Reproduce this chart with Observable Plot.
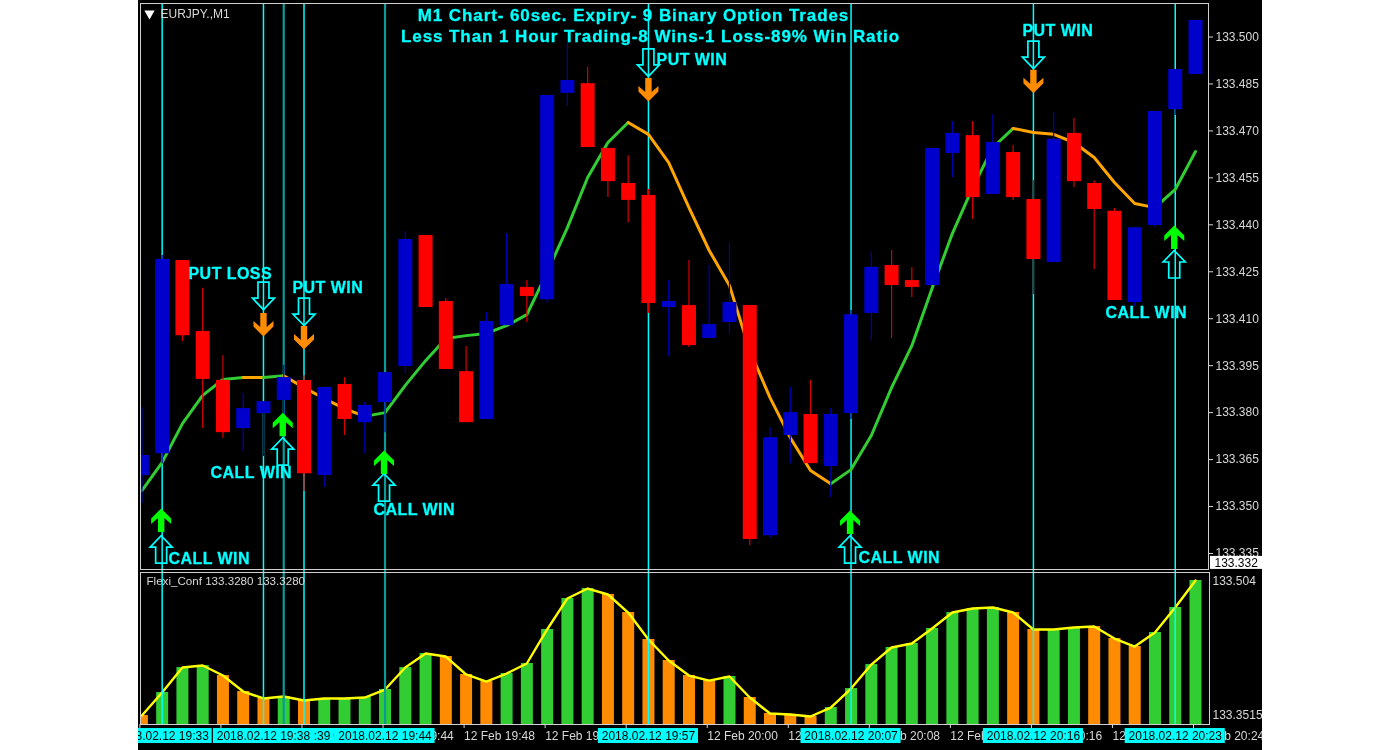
<!DOCTYPE html>
<html>
<head>
<meta charset="utf-8">
<script src="https://cdn.jsdelivr.net/npm/d3@7"></script>
<script src="https://cdn.jsdelivr.net/npm/@observablehq/plot@0.6"></script>
<style>
html,body{margin:0;padding:0;background:#fff;}
#wrap{position:absolute;left:138px;top:0;width:1124px;height:750px;background:#000;overflow:hidden;}
#top,#bottom{position:absolute;left:0;}
#top{top:0;}#bottom{top:570px;}
.heavy{letter-spacing:.45px;}
.wide{letter-spacing:.92px;}
svg{display:block;filter:blur(.35px);}
</style>
</head>
<body>
<div id="wrap"><div id="top"></div><div id="bottom"></div></div>
<script>
const opens=[133.3599,133.3669,133.4286,133.4059,133.3903,133.3749,133.3797,133.3839,133.3903,133.3599,133.3890,133.3768,133.3832,133.3947,133.4366,133.4155,133.3931,133.3778,133.4078,133.4200,133.4161,133.4820,133.4851,133.4644,133.4532,133.4494,133.4136,133.4142,133.4037,133.4088,133.4142,133.3407,133.3727,133.3794,133.3628,133.3797,133.4117,133.4270,133.4222,133.4206,133.4628,133.4685,133.4497,133.4631,133.4481,133.4280,133.4692,133.4532,133.4443,133.4152,133.4398,133.4768,133.4880];
const highs=[133.3816,133.4302,133.4286,133.4197,133.3982,133.3861,133.3835,133.3951,133.3918,133.3880,133.3912,133.3832,133.3928,133.4379,133.4366,133.4165,133.4011,133.4120,133.4372,133.4222,133.4813,133.4982,133.4903,133.4644,133.4621,133.4513,133.4222,133.4286,133.4270,133.4343,133.4142,133.3752,133.3880,133.3903,133.3813,133.4126,133.4312,133.4318,133.4264,133.4644,133.4730,133.4730,133.4752,133.4653,133.4541,133.4759,133.4740,133.4541,133.4452,133.4391,133.4762,133.4896,133.5053];
const lows=[133.3510,133.3637,133.4027,133.3749,133.3717,133.3676,133.3660,133.3794,133.3548,133.3561,133.3727,133.3669,133.3736,133.3925,133.4136,133.3938,133.3768,133.3778,133.4078,133.4088,133.4149,133.4778,133.4647,133.4487,133.4407,133.4117,133.3979,133.4008,133.4037,133.4050,133.3375,133.3398,133.3637,133.3637,133.3529,133.3778,133.4030,133.4037,133.4168,133.4206,133.4551,133.4417,133.4497,133.4478,133.4177,133.4280,133.4519,133.4257,133.4158,133.4139,133.4391,133.4749,133.4880];
const closes=[133.3663,133.4289,133.4046,133.3906,133.3736,133.3813,133.3835,133.3912,133.3605,133.3880,133.3778,133.3823,133.3928,133.4353,133.4136,133.3938,133.3768,133.4091,133.4209,133.4171,133.4813,133.4861,133.4647,133.4538,133.4478,133.4149,133.4155,133.4014,133.4081,133.4152,133.3395,133.3720,133.3800,133.3637,133.3794,133.4113,133.4264,133.4206,133.4200,133.4644,133.4692,133.4487,133.4663,133.4487,133.4289,133.4673,133.4538,133.4449,133.4158,133.4391,133.4762,133.4896,133.5053];
const maValues=[133.3551,133.3641,133.3765,133.3855,133.3906,133.3912,133.3912,133.3918,133.3880,133.3845,133.3813,133.3788,133.3800,133.3887,133.3966,133.4037,133.4046,133.4053,133.4078,133.4113,133.4248,133.4391,133.4551,133.4663,133.4727,133.4689,133.4599,133.4455,133.4318,133.4206,133.3998,133.3848,133.3720,133.3615,133.3573,133.3618,133.3727,133.3880,133.4014,133.4197,133.4372,133.4519,133.4647,133.4708,133.4695,133.4689,133.4663,133.4615,133.4535,133.4468,133.4455,133.4513,133.4634];
const maTrend=["u","u","u","u","u","d","u","d","d","d","d","u","u","u","u","u","u","u","u","u","u","u","u","u","d","d","d","d","d","d","d","d","d","d","u","u","u","u","u","u","u","u","u","d","d","d","d","d","d","d","u","u","u"];
const histValues=[133.3515,133.3777,133.4061,133.4084,133.3970,133.3788,133.3709,133.3731,133.3686,133.3709,133.3709,133.3720,133.3811,133.4061,133.4221,133.4186,133.3982,133.3902,133.3993,133.4107,133.4494,133.4847,133.4960,133.4892,133.4687,133.4380,133.4141,133.3970,133.3913,133.3959,133.3720,133.3538,133.3526,133.3504,133.3606,133.3822,133.4095,133.4289,133.4334,133.4505,133.4687,133.4733,133.4744,133.4687,133.4494,133.4494,133.4516,133.4528,133.4391,133.4300,133.4460,133.4744,133.5051];
const histTrend=["d","u","u","u","d","d","d","u","d","u","u","u","u","u","u","d","d","d","u","u","u","u","u","d","d","d","d","d","d","u","d","d","d","d","u","u","u","u","u","u","u","u","u","d","d","u","u","d","d","d","u","u","u"];
const priceTicks=[133.335,133.35,133.365,133.38,133.395,133.41,133.425,133.44,133.455,133.47,133.485,133.5];
const currentPrice=133.332;
const indicatorTicks=[133.3515,133.504];
const timeTickIndex=[0,4,8,12,16,20,24,28,32,36,40,44,48,52];
const timeTickLabels=["12 Feb 19:32","12 Feb 19:36","12 Feb 19:40","12 Feb 19:44","12 Feb 19:48","12 Feb 19:52","12 Feb 19:56","12 Feb 20:00","12 Feb 20:04","12 Feb 20:08","12 Feb 20:12","12 Feb 20:16","12 Feb 20:20","12 Feb 20:24"];
const tradeIndex=[1,8,7,6,12,25,35,44,51];
const tradeTimes=["2018.02.12 19:33","2018.02.12 19:40","2018.02.12 19:39","2018.02.12 19:38","2018.02.12 19:44","2018.02.12 19:57","2018.02.12 20:07","2018.02.12 20:16","2018.02.12 20:23"];
const tradeIsDim=[false,false,true,false,true,false,false,false,false];
const tradeSide=["call","put","call","put","call","put","call","put","call"];
const outlineTip=[133.3407,133.4078,133.3720,133.4129,133.3605,133.4874,133.3407,133.4899,133.4318];
const solidTip=[133.3494,133.4002,133.3800,133.4043,133.3679,133.4794,133.3487,133.4820,133.4398];
const tradeLabels=["CALL WIN","PUT WIN","CALL WIN","PUT LOSS","CALL WIN","PUT WIN","CALL WIN","PUT WIN","CALL WIN"];
const labelIndex=[1.31,7.43,3.39,2.30,11.43,25.40,35.37,43.46,47.56];
const labelPrice=[133.3334,133.4197,133.3609,133.4244,133.3490,133.4928,133.3337,133.5018,133.4120];
const titleLines=["M1 Chart- 60sec. Expiry- 9 Binary Option Trades","Less Than 1 Hour Trading-8 Wins-1 Loss-89% Win Ratio"];
const titleIndex=[24.26,25.1];
const titlePrice=[133.5068,133.5002];
const symbolName="EURJPY.,M1";
const indicatorName="Flexi_Conf 133.3280 133.3280";

const FONT="'Liberation Sans',Arial,sans-serif";
const BLUE="#0000cd",RED="#ff0000",GREEN="#32cd32",ORANGE="#ffa500",DARKORANGE="#ff8c00",CYAN="#00ffff",TEAL="#0b9a9a",LIGHT="#d8d8d8";
const xScale={domain:[0,52],range:[3.4,1057],axis:null};
const bars=opens.map((o,i)=>({i,o,h:highs[i],l:lows[i],c:closes[i],up:closes[i]>=o}));
const ma=maValues.map((v,i)=>({i,v,t:maTrend[i]}));
const hist=histValues.map((v,i)=>({i,v,t:histTrend[i]}));
const trades=tradeIndex.map((i,k)=>({i,time:tradeTimes[k],dim:tradeIsDim[k],side:tradeSide[k],outline:outlineTip[k],solid:solidTip[k],label:tradeLabels[k],li:labelIndex[k],lp:labelPrice[k]}));
const titles=titleLines.map((t,k)=>({t,x:titleIndex[k],y:titlePrice[k]}));
const calls=trades.filter(d=>d.side==="call"),puts=trades.filter(d=>d.side==="put");

// arrow shapes: origin at the tip
function poly(ctx,pts){pts.forEach((p,k)=>k?ctx.lineTo(p[0],p[1]):ctx.moveTo(p[0],p[1]));ctx.closePath();}
const outlineShape=[[0,0],[11,11.5],[5.5,11.5],[5.5,27.5],[-5.5,27.5],[-5.5,11.5],[-11,11.5]];
const solidShape=[[0,0],[10,10],[10,15.5],[3.2,9.5],[3.2,23.5],[-3.2,23.5],[-3.2,9.5],[-10,15.5],[-10,10]];
const flip=s=>s.map(p=>[p[0],-p[1]]);
const upOutline={draw(c){poly(c,outlineShape)}},downOutline={draw(c){poly(c,flip(outlineShape))}};
const upSolid={draw(c){poly(c,solidShape)}},downSolid={draw(c){poly(c,flip(solidShape))}};

const pricePlot=Plot.plot({
  width:1124,height:570,marginLeft:2,marginRight:54,marginTop:3,marginBottom:1,
  style:{background:"#000",overflow:"hidden",fontFamily:FONT},
  x:xScale,
  y:{domain:[133.335,133.5],range:[553,36.5]},
  color:{type:"identity"},
  marks:[
    Plot.ruleX(trades,{x:"i",stroke:d=>d.dim?TEAL:CYAN,strokeWidth:d=>d.dim?2.2:1.5}),
    Plot.line(ma,{x:"i",y:"v",z:null,stroke:d=>d.t==="u"?GREEN:ORANGE,strokeWidth:3,curve:"linear",strokeLinejoin:"round"}),
    Plot.ruleX(bars,{x:"i",y1:"l",y2:"h",stroke:d=>d.up?"#0000b4":"#d80000",strokeWidth:1.2,clip:true}),
    Plot.ruleX(bars,{x:"i",y1:"o",y2:"c",stroke:d=>d.up?BLUE:RED,strokeWidth:14,clip:true}),
    Plot.frame({stroke:"#cfcfcf"}),
    Plot.axisY({anchor:"right",ticks:priceTicks,tickFormat:d3.format(".3f"),tickSize:4,tickPadding:3,color:LIGHT,fontSize:12,label:null}),
    Plot.rect([currentPrice],{x1:52.74,x2:56,y1:d=>d+0.00208,y2:d=>d-0.00208,fill:"#fff"}),
    Plot.text([currentPrice],{x:52.74,y:d=>d,text:d=>d3.format(".3f")(d),textAnchor:"start",dx:4,fill:"#000",fontSize:12}),
    Plot.dot(calls,{x:"i",y:"outline",symbol:upOutline,r:3,fill:"none",stroke:CYAN,strokeWidth:1.7,dx:-1}),
    Plot.dot(puts,{x:"i",y:"outline",symbol:downOutline,r:3,fill:"none",stroke:CYAN,strokeWidth:1.7}),
    Plot.dot(calls,{x:"i",y:"solid",symbol:upSolid,r:3,fill:"#00ff00",stroke:"none",dx:-1}),
    Plot.dot(puts,{x:"i",y:"solid",symbol:downSolid,r:3,fill:DARKORANGE,stroke:"none"}),
    Plot.text(trades,{x:"li",y:"lp",text:"label",textAnchor:"start",fill:CYAN,stroke:CYAN,strokeWidth:.3,fontWeight:"bold",fontSize:16,className:"heavy"}),
    Plot.text(titles,{x:"x",y:"y",text:"t",textAnchor:"middle",fill:CYAN,stroke:CYAN,strokeWidth:.3,fontWeight:"bold",fontSize:17,className:"wide"}),
    Plot.dot([symbolName],{frameAnchor:"top-left",dx:9,dy:10,symbol:"triangle",rotate:180,r:3.8,fill:"#fff",stroke:"none"}),
    Plot.text([symbolName],{frameAnchor:"top-left",dx:20,dy:6,text:d=>d,textAnchor:"start",lineAnchor:"top",fill:LIGHT,fontSize:12})
  ]
});
document.getElementById("top").appendChild(pricePlot);

const indicatorFloor=133.3413;
const indicatorPlot=Plot.plot({
  width:1124,height:180,marginLeft:2,marginRight:53,marginTop:2,marginBottom:26,
  style:{background:"#000",overflow:"hidden",fontFamily:FONT},
  x:xScale,
  y:{domain:[indicatorFloor,133.504],range:[154,11]},
  color:{type:"identity"},
  marks:[
    Plot.ruleX(hist,{x:"i",y1:indicatorFloor,y2:"v",stroke:d=>d.t==="u"?GREEN:DARKORANGE,strokeWidth:12,clip:true}),
    Plot.line(hist,{x:"i",y:"v",stroke:"#ffff00",strokeWidth:2.4,curve:"linear",strokeLinejoin:"round"}),
    Plot.ruleX(trades,{x:"i",y1:indicatorFloor,y2:133.5165,stroke:d=>d.dim?TEAL:CYAN,strokeWidth:d=>d.dim?2.2:1.5}),
    Plot.frame({stroke:"#cfcfcf"}),
    Plot.axisY({anchor:"right",ticks:indicatorTicks,tickFormat:d=>d===133.504?"133.504":"133.3515",tickSize:0,tickPadding:3,color:LIGHT,fontSize:12,label:null}),
    Plot.axisX({anchor:"bottom",ticks:timeTickIndex,tickFormat:d=>timeTickLabels[timeTickIndex.indexOf(d)],tickSize:4,tickPadding:3,textAnchor:"start",color:LIGHT,fontSize:12,label:null,dx:-2}),
    ...trades.flatMap(d=>[
      Plot.rect([d],{x1:t=>t.i-2.47,x2:t=>t.i+2.47,y1:133.3367,y2:133.3197,fill:CYAN}),
      Plot.text([d],{x:"i",y:133.3276,text:"time",fill:"#000",fontSize:12})
    ]),
    Plot.text([indicatorName],{frameAnchor:"top-left",dx:6,dy:4,text:d=>d,textAnchor:"start",lineAnchor:"top",fill:LIGHT,fontSize:11.6})
  ]
});
document.getElementById("bottom").appendChild(indicatorPlot);
</script>
</body>
</html>
